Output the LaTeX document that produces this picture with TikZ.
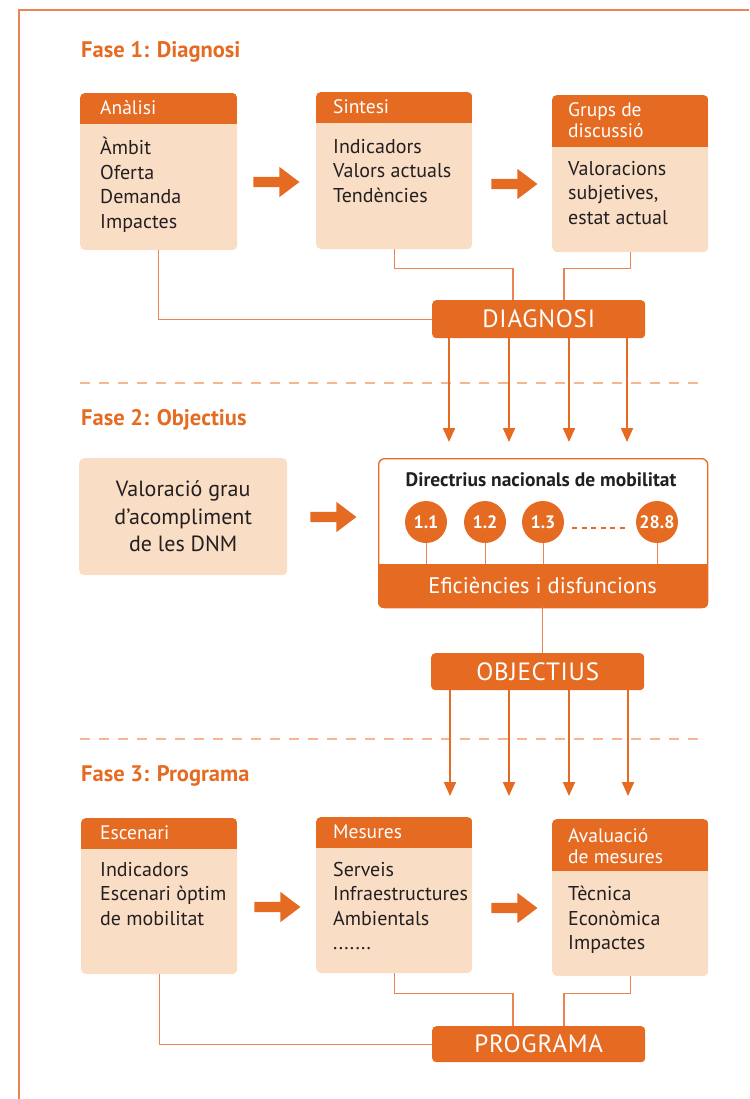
\documentclass[tikz,border=0pt]{standalone}
\usepackage{fontspec}
\setmainfont{PT Sans}
\newfontfamily\capsfont[LetterSpace=3]{PT Sans}
\usetikzlibrary{arrows.meta,shapes.arrows}
\definecolor{fase}{HTML}{E66B22}
\definecolor{peach}{HTML}{FADDC5}
\definecolor{wire}{HTML}{EA8450}
\definecolor{sepcol}{HTML}{F6B690}
\definecolor{ink}{HTML}{231F20}

\begin{document}
\begin{tikzpicture}[x=1pt,y=-1pt,
  bodybox/.style={fill=peach,rounded corners=5pt,minimum width=157pt,minimum height=157pt,anchor=north west,inner sep=0pt},
  keybox/.style={fill=fase,rounded corners=4pt,minimum width=213pt,minimum height=37pt,anchor=north west,inner sep=0pt,text=white,font=\capsfont\fontsize{25}{27}\selectfont},
  fasetitle/.style={anchor=west,inner sep=0pt,text=fase,font=\bfseries\fontsize{22.5}{24}\selectfont},
  headtext/.style={anchor=west,inner sep=0pt,align=left,text=white,font=\fontsize{19.5}{21.5}\selectfont},
  bodytext/.style={anchor=north west,inner sep=0pt,align=left,text=ink,font=\fontsize{20}{24.5}\selectfont},
  blockarrow/.style={single arrow,fill=fase,minimum height=46pt,inner xsep=0pt,inner ysep=5pt,single arrow head extend=10pt,single arrow tip angle=74},
  dnmcirc/.style={circle,fill=fase,minimum size=42pt,inner sep=0pt,text=white,font=\bfseries\fontsize{18}{18}\selectfont},
  wireline/.style={draw=wire,line width=1.2pt},
  downarrow/.style={draw=fase,line width=2pt,-{Triangle[width=12pt,length=14pt]}},
  sepline/.style={draw=sepcol,line width=2.5pt,dash pattern=on 10pt off 9pt}]
\useasboundingbox (0,0) rectangle (749,1099);
% frame
\draw[draw=wire,line width=1.3pt] (749,10) -- (19,10) -- (19,1099);

% Fase 1
\node[fasetitle] (fase1) at (81,52) {Fase 1: Diagnosi};
\node[bodybox] (analisi) at (80,93) {};
\node[bodybox,minimum width=156pt] (sintesi) at (316,92) {};
\node[bodybox,minimum width=156pt] (grups) at (552,95) {};

% Fase 3 boxes
\node[bodybox,minimum width=156pt,minimum height=156pt] (escenari) at (81,818) {};
\node[bodybox,minimum width=156pt,minimum height=156pt] (mesures) at (316,817) {};
\node[bodybox,minimum width=156pt] (avalua) at (552,819) {};

% header bands
\foreach \b/\h in {analisi/31,sintesi/31,grups/52,escenari/31,mesures/31,avalua/52}{
  \begin{scope}
    \clip[rounded corners=5pt] (\b.north west) rectangle (\b.south east);
    \fill[fase] (\b.north west) rectangle ([yshift=-\h pt]\b.north east);
  \end{scope}
}

\node[headtext] (analisih) at (100,108) {Anàlisi};
\node[headtext] (sintesih) at (333,107) {Sintesi};
\node[headtext] (grupsh) at (568,120) {Grups de\\discussió};
\node[bodytext] (analisit) at (100,137) {Àmbit\\Oferta\\Demanda\\Impactes};
\node[bodytext] (sintesit) at (333,139) {Indicadors\\Valors actuals\\Tendències};
\node[bodytext] (grupst) at (568,161) {Valoracions\\subjetives,\\estat actual};

\node[blockarrow] (arr1) at (273,182) {};
\node[blockarrow] (arr2) at (511,184) {};

\node[keybox,minimum height=38pt] (diagnosi) at (432,300) {DIAGNOSI};
\draw[wireline] (analisi.south) |- (diagnosi.west);
\draw[wireline] (sintesi.south) -- ++(0,19) -| ([xshift=81pt]diagnosi.north west);
\draw[wireline] (grups.south) -- ++(0,16) -| ([xshift=132pt]diagnosi.north west);

\draw[sepline] (80,383) -- (702,383);

% Fase 2
\node[fasetitle] (fase2) at (81,420) {Fase 2: Objectius};
\node[fill=peach,rounded corners=5pt,minimum width=208pt,minimum height=117pt,anchor=north west,inner sep=0pt] (valoracio) at (79,458) {};
\node[align=center,text=ink,inner sep=0pt,font=\fontsize{22}{27.5}\selectfont] (valoraciot) at (valoracio.center) {Valoració grau\\d'acompliment\\de les DNM};
\node[blockarrow] (arr3) at (330,517) {};

\node[draw=fase,fill=white,line width=1.3pt,rounded corners=6pt,minimum width=329pt,minimum height=149pt,anchor=north west,inner sep=0pt] (dnm) at (378,458) {};
\begin{scope}
  \clip[rounded corners=6pt] (dnm.north west) rectangle (dnm.south east);
  \fill[fase] ([yshift=-106pt]dnm.north west) rectangle (dnm.south east);
\end{scope}
\node[anchor=north west,minimum width=329pt,minimum height=43pt,inner sep=0pt,text=white,font=\fontsize{22.5}{24}\selectfont] (efic) at (378,564) {Eficiències i disfuncions};
\node[text=ink,inner sep=0pt,font=\bfseries\fontsize{19.5}{22}\selectfont] (dnmt) at (541,480) {Directrius nacionals de mobilitat};
\node[dnmcirc] (c11) at (426,522) {1.1};
\node[dnmcirc] (c12) at (485,522) {1.2};
\node[dnmcirc] (c13) at (543,522) {1.3};
\node[dnmcirc] (c288) at (657,522) {28.8};
\foreach \c in {c11,c12,c13,c288}
  \draw[draw=wire,line width=1pt] (\c) -- (\c |- efic.north);
\draw[draw=fase,line width=2pt,dash pattern=on 5pt off 4.5pt,shorten <=8pt,shorten >=9pt] ([yshift=-6pt]c13.east) -- ([yshift=-6pt]c288.west);

\foreach \dx in {17,77,137,195}
  \draw[downarrow,shorten >=16pt] ([xshift=\dx pt]diagnosi.south west) -- ([xshift=\dx pt]diagnosi.south west |- dnm.north);

\node[keybox] (objectius) at (431,653) {OBJECTIUS};
\draw[wireline] (efic.south) -- (efic.south |- objectius.north);

\draw[sepline] (80,739) -- (702,739);

% Fase 3
\node[fasetitle] (fase3) at (81,776) {Fase 3: Programa};
\node[headtext] (escenarih) at (100,833) {Escenari};
\node[headtext] (mesuresh) at (333,832) {Mesures};
\node[headtext] (avaluah) at (568,846) {Avaluació\\de mesures};
\node[bodytext] (escenarit) at (100,862) {Indicadors\\Escenari òptim\\de mobilitat};
\node[bodytext] (mesurest) at (333,862) {Serveis\\Infraestructures\\Ambientals\\.......};
\node[bodytext] (avaluat) at (568,886) {Tècnica\\Econòmica\\Impactes};

\node[blockarrow] (arr4) at (274,907) {};
\node[blockarrow] (arr5) at (511,908) {};

\foreach \dx in {19,78,138,197}
  \draw[downarrow,shorten >=21pt] ([xshift=\dx pt]objectius.south west) -- ([xshift=\dx pt]objectius.south west |- mesures.north);

\node[keybox,minimum height=36pt] (programa) at (432,1026) {PROGRAMA};
\draw[wireline] (escenari.south) |- (programa.west);
\draw[wireline] (mesures.south) -- ++(0,20) -| ([xshift=81pt]programa.north west);
\draw[wireline] (avalua.south) -- ++(0,17) -| ([xshift=132pt]programa.north west);
\end{tikzpicture}
\end{document}
